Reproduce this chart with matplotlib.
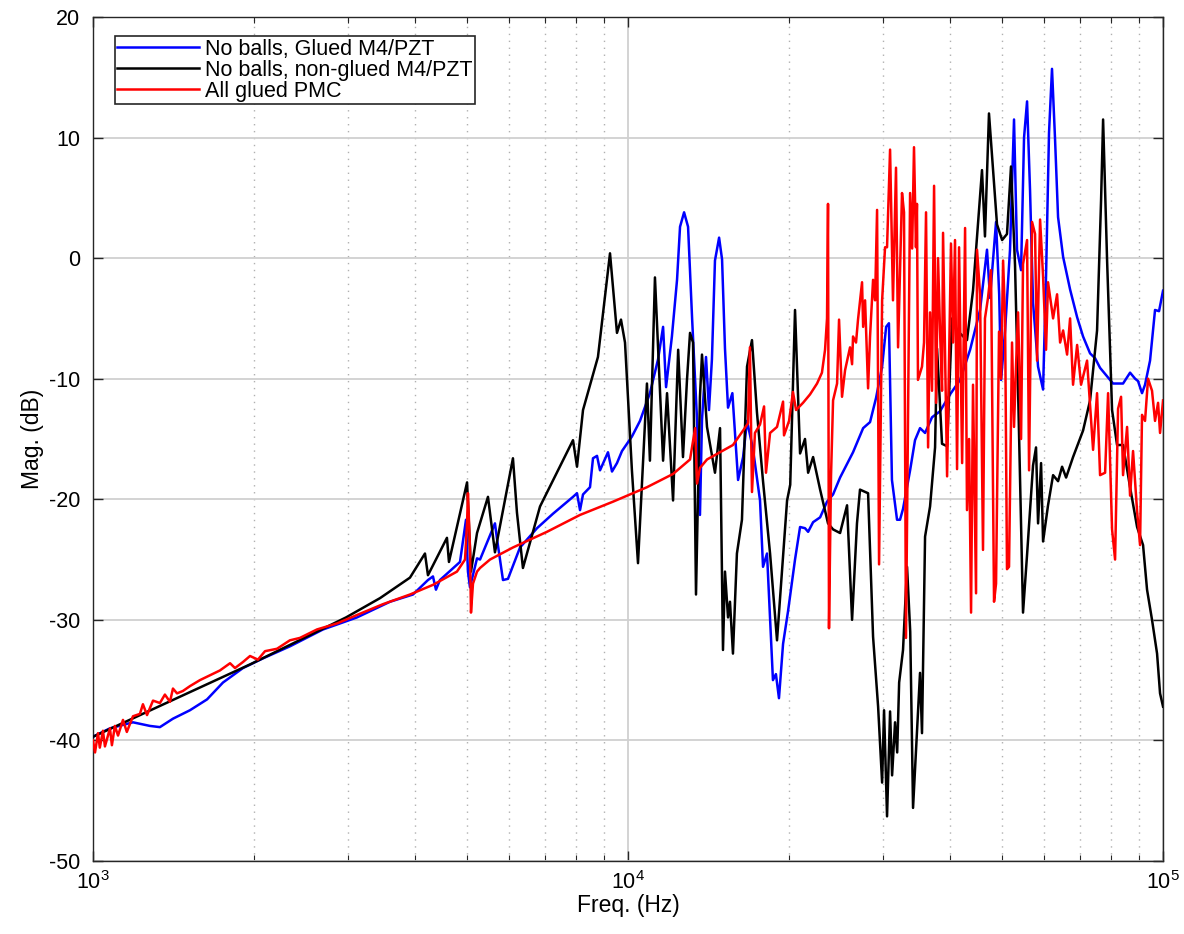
import numpy as np
import matplotlib
matplotlib.use("Agg")
import matplotlib.pyplot as plt
from matplotlib.ticker import LogLocator, NullFormatter

# ================ Data (freq in kHz, magnitude in dB) ================
freq_black = [
    1.000, 1.966, 2.972, 3.440, 3.913, 4.174, 4.228, 4.588, 4.628, 5.003,
    5.088, 5.222, 5.474, 5.641, 6.095, 6.201, 6.363, 6.848, 7.893, 8.030,
    8.240, 8.787, 9.255, 9.537, 9.703, 9.872, 10.17, 10.44, 10.85, 10.99,
    11.23, 11.63, 11.83, 12.14, 12.41, 12.67, 12.89, 13.06, 13.23, 13.40,
    13.63, 13.75, 14.05, 14.54, 14.86, 15.05, 15.18, 15.38, 15.51, 15.71,
    15.98, 16.33, 16.69, 17.05, 17.42, 17.88, 18.43, 18.99, 19.83, 20.10,
    20.52, 20.97, 21.42, 21.71, 22.18, 22.86, 23.65, 24.17, 24.91, 25.67,
    26.23, 26.79, 27.14, 28.10, 28.71, 29.34, 29.85, 30.10, 30.49, 30.89,
    31.16, 31.56, 31.85, 32.12, 32.66, 33.23, 33.69, 34.10, 35.14, 35.44,
    35.91, 36.69, 37.49, 37.81, 38.63, 39.48, 40.33, 41.21, 43.01, 44.14,
    45.88, 46.47, 47.28, 48.94, 50.03, 51.09, 51.98, 52.89, 53.58, 54.74,
    55.70, 57.15, 57.89, 58.40, 59.16, 59.67, 60.96, 62.30, 63.65, 64.76,
    65.89, 67.89, 70.88, 73.05, 75.28, 76.59, 77.26, 78.60, 80.30, 82.05,
    84.19, 86.77, 89.43, 91.76, 93.35, 95.37, 97.46, 98.72, 100.0,
]
mag_black = [
    -39.7, -33.7, -29.8, -28.2, -26.5, -24.5, -26.3, -23.2, -25.2, -18.6,
    -26.0, -22.8, -19.8, -24.4, -16.6, -21.1, -25.7, -20.6, -15.1, -17.3,
    -12.6, -8.2, 0.4, -6.2, -5.1, -7.0, -17.6, -25.3, -10.4, -16.8,
    -1.6, -16.8, -11.2, -20.1, -7.6, -16.5, -10.1, -6.2, -7.0, -27.9,
    -11.5, -8.0, -14.0, -17.8, -14.1, -32.5, -26.0, -29.8, -28.5, -32.8,
    -24.5, -21.7, -9.0, -6.8, -12.8, -18.5, -24.5, -31.7, -20.1, -18.8,
    -4.3, -16.2, -15.0, -17.8, -16.5, -19.2, -22.0, -22.5, -22.8, -20.5,
    -30.0, -22.0, -19.2, -19.5, -31.4, -37.2, -43.5, -37.5, -46.3, -37.6,
    -42.9, -38.5, -41.0, -35.2, -32.5, -25.6, -31.0, -45.6, -34.4, -39.4,
    -23.1, -20.6, -15.7, -7.5, -15.4, -15.6, -5.0, -6.0, -6.8, -2.7,
    7.3, 1.8, 12.0, 2.8, 1.5, 2.0, 7.6, -0.6, -10.9, -29.4,
    -24.6, -17.2, -15.7, -22.0, -17.0, -23.5, -20.5, -18.0, -18.5, -17.3,
    -18.2, -16.5, -14.3, -11.8, -6.0, 4.8, 11.5, -0.2, -12.6, -15.5,
    -15.5, -19.0, -22.3, -23.8, -27.5, -30.0, -32.8, -36.1, -37.2,
]

freq_blue = [
    1.000, 1.076, 1.188, 1.278, 1.334, 1.411, 1.518, 1.634, 1.750, 1.907,
    2.078, 2.334, 2.691, 3.115, 3.591, 3.964, 4.228, 4.320, 4.376, 4.452,
    4.853, 4.980, 5.022, 5.066, 5.222, 5.290, 5.641, 5.700, 5.839, 5.966,
    6.283, 6.760, 7.241, 7.893, 8.030, 8.135, 8.240, 8.492, 8.602, 8.752,
    8.865, 9.175, 9.335, 9.537, 9.745, 10.17, 10.53, 10.99, 11.38, 11.63,
    11.78, 12.08, 12.35, 12.51, 12.73, 12.95, 13.18, 13.46, 13.63, 13.75,
    13.99, 14.17, 14.35, 14.54, 14.80, 14.99, 15.18, 15.38, 15.67, 16.06,
    16.41, 16.69, 17.12, 17.65, 17.88, 18.19, 18.66, 18.90, 19.15, 19.49,
    19.91, 20.52, 20.97, 21.42, 21.71, 22.18, 22.86, 23.55, 24.17, 24.91,
    26.34, 27.51, 28.34, 29.08, 29.85, 30.37, 30.74, 31.14, 31.83, 32.24,
    32.66, 33.67, 34.39, 35.14, 35.91, 37.00, 38.30, 39.99, 41.75, 43.59,
    45.50, 46.88, 47.49, 48.74, 49.40, 49.81, 50.67, 51.76, 52.66, 53.34,
    54.28, 54.98, 55.70, 56.42, 57.15, 58.40, 59.67, 60.44, 61.22, 62.01,
    62.81, 63.65, 65.05, 67.03, 69.09, 70.88, 73.05, 74.64, 76.26, 78.27,
    80.64, 84.19, 86.77, 88.67, 89.80, 91.35, 92.54, 94.56, 96.61, 98.29,
    100.0,
]
mag_blue = [
    -39.7, -39.0, -38.5, -38.8, -38.9, -38.2, -37.5, -36.6, -35.2, -34.0,
    -33.2, -32.2, -30.8, -29.8, -28.5, -27.9, -26.7, -26.4, -27.5, -26.7,
    -25.2, -21.7, -26.0, -27.3, -24.9, -25.0, -22.0, -23.5, -26.7, -26.6,
    -24.0, -22.4, -21.2, -19.8, -19.5, -20.9, -19.6, -19.0, -16.6, -16.4,
    -17.6, -16.1, -17.7, -17.0, -16.0, -14.8, -13.5, -11.2, -8.4, -5.7,
    -10.7, -6.5, -1.8, 2.6, 3.8, 2.6, -5.1, -13.4, -21.3, -13.4,
    -8.2, -12.6, -8.4, -0.2, 1.7, -0.1, -7.5, -12.4, -11.2, -18.4,
    -16.5, -13.5, -15.8, -20.1, -25.6, -24.5, -35.0, -34.5, -36.5, -32.0,
    -29.3, -25.0, -22.3, -22.4, -22.7, -21.9, -21.5, -20.2, -19.6, -18.2,
    -16.1, -14.1, -13.6, -11.6, -9.0, -5.7, -5.4, -18.4, -21.7, -21.7,
    -20.8, -17.6, -15.1, -14.1, -14.5, -13.2, -12.7, -11.3, -10.1, -7.6,
    -4.3, 0.7, -3.3, 3.0, -3.0, -10.1, -6.0, 0.7, 11.5, 0.7,
    -1.0, 10.0, 13.0, 5.6, -3.7, -9.0, -10.9, -1.5, 10.4, 15.7,
    10.0, 3.4, 0.1, -2.6, -4.9, -6.5, -7.9, -8.3, -9.1, -9.7,
    -10.4, -10.4, -9.5, -10.0, -10.2, -11.2, -10.5, -8.5, -4.3, -4.4,
    -2.7,
]

freq_red = [
    1.000, 1.009, 1.022, 1.030, 1.044, 1.053, 1.076, 1.085, 1.099, 1.114,
    1.138, 1.157, 1.188, 1.224, 1.240, 1.262, 1.295, 1.334, 1.363, 1.393,
    1.411, 1.436, 1.473, 1.518, 1.585, 1.654, 1.727, 1.804, 1.843, 1.907,
    1.966, 2.034, 2.097, 2.208, 2.334, 2.437, 2.622, 2.858, 3.115, 3.484,
    3.913, 4.320, 4.790, 4.959, 5.003, 5.022, 5.066, 5.088, 5.132, 5.222,
    5.290, 5.522, 6.095, 7.056, 8.135, 9.376, 10.85, 12.14, 13.06, 13.35,
    13.46, 13.63, 14.05, 14.86, 15.71, 16.41, 16.76, 16.90, 17.05, 17.27,
    17.65, 17.96, 18.11, 18.43, 18.99, 19.49, 19.57, 20.00, 20.34, 20.61,
    21.24, 21.89, 22.56, 23.04, 23.35, 23.55, 23.65, 23.75, 23.96, 24.17,
    24.59, 24.80, 25.12, 25.45, 26.00, 26.23, 26.34, 26.68, 26.91, 27.38,
    27.51, 27.74, 28.10, 28.34, 28.71, 28.96, 29.21, 29.46, 29.85, 30.23,
    30.49, 30.89, 31.28, 31.69, 31.97, 32.52, 32.80, 33.08, 33.67, 33.97,
    34.24, 34.53, 34.68, 34.83, 35.44, 35.75, 36.06, 36.38, 36.69, 37.00,
    37.33, 37.65, 37.97, 38.30, 38.63, 38.80, 39.48, 40.15, 40.50, 40.85,
    41.21, 41.57, 42.12, 42.66, 43.01, 43.40, 43.77, 44.14, 44.52, 44.72,
    44.91, 45.50, 46.08, 46.47, 47.08, 47.70, 47.90, 48.32, 48.74, 49.37,
    49.81, 50.24, 50.67, 51.09, 51.54, 52.21, 52.66, 53.11, 53.58, 54.28,
    54.74, 55.70, 56.18, 56.91, 57.65, 58.15, 58.91, 59.67, 60.44, 60.96,
    62.30, 63.38, 64.21, 65.05, 66.17, 67.03, 67.89, 69.09, 70.27, 72.11,
    74.00, 75.28, 76.26, 77.93, 78.94, 80.30, 81.35, 82.40, 83.47, 84.19,
    85.66, 86.77, 87.89, 89.43, 90.58, 91.35, 92.54, 93.75, 95.37, 96.61,
    97.88, 98.72, 100.0,
]
mag_red = [
    -40.0, -41.0, -39.4, -40.6, -39.2, -40.5, -39.0, -40.4, -38.8, -39.6,
    -38.3, -39.3, -38.0, -37.8, -37.0, -37.9, -36.7, -36.9, -36.2, -36.8,
    -35.7, -36.1, -35.9, -35.5, -35.0, -34.6, -34.2, -33.6, -34.0, -33.5,
    -33.0, -33.3, -32.6, -32.4, -31.7, -31.5, -30.8, -30.3, -29.6, -28.7,
    -27.9, -27.1, -26.0, -25.0, -22.0, -19.5, -24.0, -29.4, -27.0, -26.0,
    -25.7, -25.0, -24.0, -22.7, -21.3, -20.2, -19.0, -17.9, -16.7, -14.1,
    -18.7, -17.4, -16.7, -16.1, -15.5, -14.3, -13.7, -7.4, -19.4, -14.5,
    -13.8, -12.3, -17.8, -14.5, -14.0, -11.9, -14.7, -13.5, -11.1, -12.6,
    -12.0, -11.3, -10.4, -9.5, -7.6, -5.0, 4.5, -30.7, -18.0, -11.8,
    -10.4, -5.1, -11.5, -9.3, -7.4, -8.8, -6.5, -7.0, -5.1, -2.0,
    -5.7, -3.5, -10.8, -6.5, -1.8, -3.5, 4.0, -25.4, -3.5, 0.9,
    0.9, 9.0, -3.5, 7.5, -7.4, 5.4, 3.8, -31.5, 5.4, 0.8,
    9.2, 0.9, 4.5, -10.1, -9.0, -7.0, 3.8, -15.7, -4.5, -11.0,
    6.0, -12.0, 0.0, -6.0, -11.0, 2.1, -18.1, 1.2, -7.0, 1.5,
    -17.5, 0.9, -17.0, 2.5, -20.9, -15.0, -29.4, -10.5, -22.0, -27.8,
    0.7, -3.0, -24.2, -5.0, -3.3, -1.0, -10.0, -28.5, -27.0, -6.1,
    -10.0, -0.2, -5.0, -25.8, -25.6, -7.0, -14.0, -9.0, -4.5, -15.0,
    -0.5, 1.5, -17.6, 3.0, 2.0, -8.5, 3.2, -1.5, -7.6, -2.0,
    -5.0, -3.0, -7.0, -6.0, -8.0, -5.0, -10.5, -7.2, -10.5, -8.5,
    -15.9, -11.2, -18.0, -17.8, -11.2, -22.5, -25.0, -12.5, -11.5, -18.0,
    -14.0, -19.7, -16.0, -21.0, -23.8, -13.0, -13.5, -10.0, -11.0, -13.5,
    -12.0, -14.5, -11.8,
]

series_labels = ["No balls, Glued M4/PZT", "No balls, non-glued M4/PZT", "All glued PMC"]
y_ticks = [-50, -40, -30, -20, -10, 0, 10, 20]

# ================ Figure ================
plt.rcParams["font.family"] = ["Liberation Sans", "DejaVu Sans"]
plt.rcParams["mathtext.fontset"] = "custom"
plt.rcParams["mathtext.rm"] = "Liberation Sans"

fig = plt.figure(figsize=(11.84, 9.34), dpi=100)
ax = fig.add_axes([0.0785, 0.0782, 0.9038, 0.9036])

lw = 1.8
hz = lambda f: np.asarray(f) * 1e3
ax.plot(hz(freq_blue), mag_blue, color="#0000ff", linewidth=lw, label=series_labels[0], zorder=3)
ax.plot(hz(freq_black), mag_black, color="#000000", linewidth=lw, label=series_labels[1], zorder=3)
ax.plot(hz(freq_red), mag_red, color="#ff0000", linewidth=lw, label=series_labels[2], zorder=3)

ax.set_xscale("log")
ax.set_xlim(1e3, 1e5)
ax.set_ylim(-50, 20)
ax.set_yticks(y_ticks)
ax.set_yticklabels([str(v) for v in y_ticks])
ax.xaxis.set_major_locator(LogLocator(base=10, numticks=5))
ax.xaxis.set_minor_locator(LogLocator(base=10, subs=np.arange(2, 10), numticks=20))
ax.xaxis.set_minor_formatter(NullFormatter())

# -------- grid, MATLAB look --------
ax.grid(which="major", axis="both", color="#d0d0d0", linewidth=1.3, linestyle="-", zorder=0)
ax.grid(which="minor", axis="x", color="#b0b0b0", linewidth=1.0, linestyle=(0, (1, 4)), zorder=0)
ax.set_axisbelow(True)

ax.tick_params(which="both", direction="in", top=True, right=True, colors="#262626",
               labelcolor="black", labelsize=15.5)
ax.tick_params(which="major", length=7, width=1.0)
ax.tick_params(which="minor", length=4, width=0.8)
ax.tick_params(axis="y", which="major", pad=9)
ax.tick_params(axis="x", which="major", pad=7)
for s in ax.spines.values():
    s.set_color("#262626")
    s.set_linewidth(1.0)

ax.set_xlabel("Freq. (Hz)", fontsize=16.5, labelpad=0)
ax.set_ylabel("Mag. (dB)", fontsize=16.5, labelpad=4)

leg = ax.legend(loc="upper left", bbox_to_anchor=(0.0205, 0.977), borderaxespad=0,
                fontsize=15.5, frameon=True, fancybox=False, framealpha=1,
                edgecolor="#262626", handlelength=3.8, handletextpad=0.3,
                labelspacing=0.0, borderpad=0.1)
leg.get_frame().set_linewidth(1.2)

fig.savefig("out.png", dpi=100)
